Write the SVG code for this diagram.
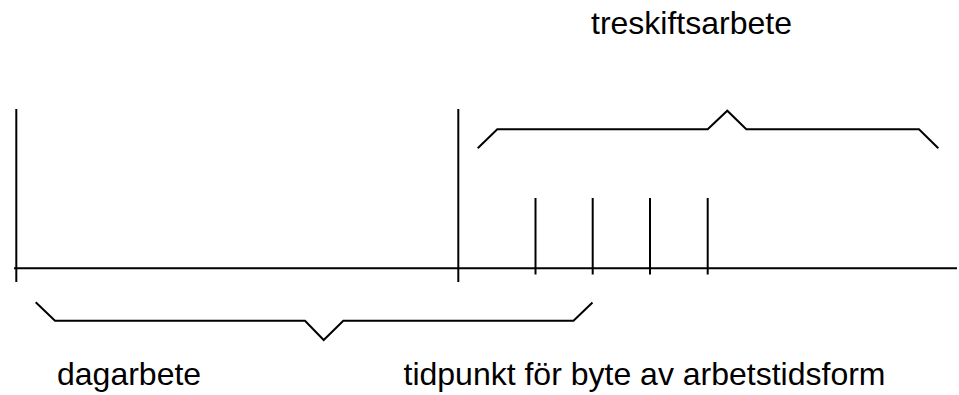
<svg xmlns="http://www.w3.org/2000/svg" width="959" height="395" viewBox="0 0 959 395">
<style>
.ln{fill:none;stroke:#000;stroke-width:2;stroke-linejoin:miter}
.lbl{font-family:"Liberation Sans",Arial,sans-serif;font-size:32px;fill:#000}
</style>
<rect width="959" height="395" fill="#fff"/>
<g id="connectors">
<line class="ln" x1="14" y1="268.3" x2="957" y2="268.3"/>
<line class="ln" x1="16.3" y1="109" x2="16.3" y2="282"/>
<line class="ln" x1="458.3" y1="109" x2="458.3" y2="282"/>
<line class="ln" x1="535.5" y1="198" x2="535.5" y2="274.5"/>
<line class="ln" x1="592.7" y1="198" x2="592.7" y2="274.5"/>
<line class="ln" x1="650" y1="198" x2="650" y2="274.5"/>
<line class="ln" x1="707.7" y1="198" x2="707.7" y2="274.5"/>
</g>
<g id="brace-dagarbete">
<polyline class="ln" points="35.7,302.3 55,320.7 305,320.7 323.7,340 343.3,320.7 573.5,320.7 592.5,302.5"/>
</g>
<g id="brace-treskift">
<polyline class="ln" points="477.7,148.3 497.3,129.3 707.7,129.3 727.3,110.7 746.3,129.3 919,129.3 938.3,148.3"/>
</g>
<g id="label-treskift"><text class="lbl" x="591" y="34">treskiftsarbete</text></g>
<g id="label-dag"><text class="lbl" x="57" y="384.5">dagarbete</text></g>
<g id="label-tidpunkt"><text class="lbl" x="403.5" y="384.5">tidpunkt för byte av arbetstidsform</text></g>
</svg>
